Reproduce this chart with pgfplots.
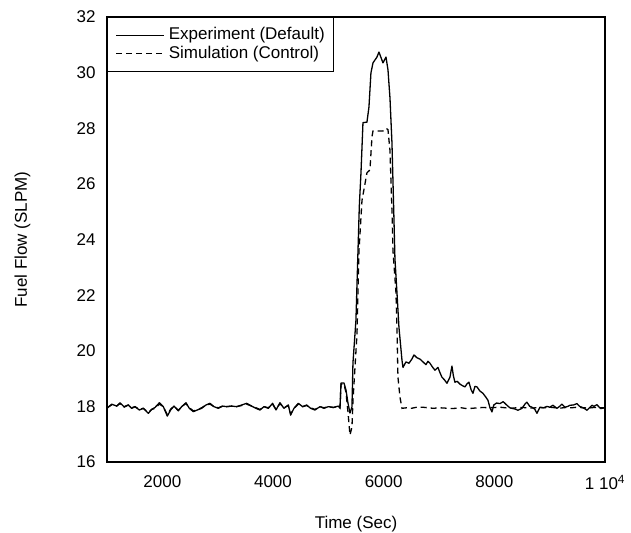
\documentclass[border=0pt]{standalone}
\usepackage{fontspec}
\setmainfont{Liberation Sans}
\usepackage{pgfplots}
\pgfplotsset{compat=1.18}
\newcommand{\ff}{\fontsize{17bp}{20bp}\selectfont}
\begin{document}
\begin{tikzpicture}
\begin{axis}[name=ax, at={(0,0)}, anchor=south west,
  scale only axis, width=498bp, height=445bp,
  xmin=1000, xmax=10000, ymin=16, ymax=32,
  scaled x ticks=false, scaled y ticks=false,
  xtick={2000,4000,6000,8000,10000},
  xticklabels={2000,4000,6000,8000,{1 10\textsuperscript{4}}},
  ytick={16,18,...,32},
  major tick length=0pt,
  axis line style={line width=1.2bp},
  /pgf/number format/assume math mode=true,
  tick label style={font=\ff},
  yticklabel style={xshift=-8bp},
  xticklabel style={yshift=-10bp},
  xlabel={Time (Sec)}, ylabel={Fuel Flow (SLPM)},
  label style={font=\ff},
  xlabel style={at={(axis description cs:0.5,0)}, anchor=base, yshift=-66bp},
  ylabel style={at={(axis description cs:0,0.5)}, anchor=base, rotate=0, yshift=80bp},
  legend style={at={(0,1)}, anchor=north west, draw=black, line width=1.1bp,
    font=\ff, inner xsep=8bp, inner ysep=9bp, column sep=3bp, row sep=1bp,
    nodes={inner xsep=1bp, inner ysep=0.5bp, text height=12.5bp, text depth=4bp}},
  legend cell align=left,
  legend image code/.code={\draw[#1] (0bp,0bp) -- (48bp,0bp);},
  clip=true,
]
\addplot[black, line width=1.3bp, line join=round] coordinates {
(1000,17.93)(1084,18.08)(1175,18.01)(1235,18.13)(1307,17.99)(1385,18.05)(1446,17.93)(1506,17.99)
(1584,17.87)(1656,17.93)(1747,17.75)(1807,17.89)(1867,17.96)(1946,18.13)(2018,17.99)(2090,17.65)
(2150,17.87)(2211,18.01)(2289,17.84)(2349,17.99)(2427,18.13)(2488,17.93)(2560,17.81)(2632,17.87)
(2710,17.93)(2789,18.05)(2861,18.11)(2933,17.99)(3012,17.93)(3090,18.01)(3162,17.99)(3253,18.01)
(3343,17.99)(3433,18.05)(3524,18.11)(3614,18.01)(3692,17.93)(3764,17.87)(3837,17.99)(3915,17.93)
(3993,18.11)(4054,17.87)(4126,18.13)(4198,17.93)(4276,18.05)(4319,17.69)(4379,17.93)(4457,18.11)
(4536,17.99)(4608,18.05)(4680,17.93)(4758,17.87)(4849,17.99)(4921,17.93)(4999,17.99)(5090,17.96)
(5180,18.01)(5211,17.94)(5229,18.84)(5283,18.84)(5319,18.59)(5355,18.12)(5391,17.76)(5427,17.98)
(5445,19.56)(5499,21.1)(5536,23.6)(5560,25.2)(5590,26.4)(5626,28.2)(5698,28.22)(5734,28.76)
(5770,29.99)(5807,30.35)(5879,30.56)(5915,30.74)(5969,30.45)(5987,30.35)(6042,30.56)(6078,30.1)
(6114,29.09)(6150,27.47)(6180,25.2)(6204,23.3)(6240,22.1)(6276,20.85)(6331,19.66)(6349,19.4)
(6403,19.6)(6457,19.55)(6510,19.7)(6548,19.85)(6600,19.75)(6656,19.7)(6710,19.6)(6764,19.5)
(6800,19.62)(6837,19.55)(6880,19.42)(6927,19.3)(6981,19.4)(7020,19.2)(7053,19.05)(7100,18.95)
(7144,18.83)(7198,19.05)(7234,19.45)(7260,19.1)(7288,18.87)(7330,18.9)(7379,18.8)(7420,18.75)
(7469,18.7)(7510,18.82)(7541,18.87)(7580,18.6)(7614,18.47)(7650,18.72)(7686,18.7)(7740,18.55)
(7794,18.47)(7840,18.35)(7885,18.22)(7921,17.95)(7957,17.8)(7990,18.05)(8040,18.12)(8102,18.1)
(8160,18.17)(8228,18.04)(8280,17.95)(8318,17.93)(8380,17.9)(8427,17.86)(8499,17.93)(8560,18.1)
(8589,18.15)(8640,18.0)(8680,17.97)(8730,17.9)(8770,17.75)(8824,17.97)(8890,17.95)(8951,18.0)
(9000,17.97)(9059,18.04)(9132,17.93)(9180,18.0)(9222,18.08)(9276,17.97)(9330,18.0)(9366,18.04)
(9430,18.05)(9493,18.1)(9540,18.0)(9583,17.97)(9630,17.92)(9674,17.86)(9720,17.95)(9764,18.04)
(9800,18.0)(9854,18.06)(9920,17.92)(10000,17.95)
};
\addlegendentry{Experiment (Default)}
\addplot[black, line width=1.3bp, dash pattern=on 6bp off 4bp] coordinates {
(1000,17.95)(1084,18.05)(1175,18.01)(1235,18.10)(1307,17.97)(1385,18.05)(1446,17.95)(1506,17.99)
(1584,17.89)(1656,17.93)(1747,17.78)(1807,17.89)(1867,17.93)(1946,18.08)(2018,17.99)(2090,17.70)
(2150,17.90)(2211,18.01)(2289,17.86)(2349,17.99)(2427,18.10)(2488,17.95)(2560,17.84)(2632,17.87)
(2710,17.95)(2789,18.05)(2861,18.08)(2933,17.99)(3012,17.95)(3090,18.01)(3162,17.99)(3253,18.01)
(3343,17.99)(3433,18.03)(3524,18.08)(3614,18.01)(3692,17.95)(3764,17.89)(3837,17.99)(3915,17.95)
(3993,18.08)(4054,17.89)(4126,18.10)(4198,17.95)(4276,18.03)(4319,17.72)(4379,17.93)(4457,18.08)
(4536,17.99)(4608,18.03)(4680,17.95)(4758,17.89)(4849,17.99)(4921,17.95)(4999,17.99)(5090,17.96)
(5180,18.0)(5211,17.94)(5229,18.8)(5283,18.8)(5319,18.5)(5355,17.8)(5391,16.97)(5427,17.25)
(5445,18.2)(5518,20.6)(5554,23.6)(5608,25.4)(5698,26.4)(5752,26.5)(5789,27.7)(5807,27.9)
(5987,27.9)(6042,28.0)(6078,27.95)(6114,27.2)(6150,25.05)(6168,23.6)(6222,22.1)(6240,20.85)
(6258,19.05)(6295,18.33)(6331,17.93)(6420,17.95)(6500,17.93)(6600,17.97)(6700,17.97)(6800,17.95)
(6900,17.93)(7000,17.95)(7100,17.94)(7200,17.92)(7300,17.93)(7400,17.95)(7500,17.92)(7600,17.93)
(7700,17.95)(7800,17.96)(7900,17.95)(8000,17.96)(8100,17.97)(8200,17.95)(8300,17.93)(8400,17.95)
(8500,17.96)(8600,17.95)(8700,17.94)(8800,17.96)(8900,17.95)(9000,17.97)(9100,17.95)(9200,17.94)
(9300,17.96)(9400,17.95)(9500,17.97)(9600,17.95)(9700,17.94)(9800,17.96)(9900,17.95)(10000,17.95)
};
\addlegendentry{Simulation (Control)}
\end{axis}
\pgfresetboundingbox
\path (ax.south west) ++(-107bp,-71bp) rectangle ++(631bp,533bp);
\end{tikzpicture}
\end{document}
